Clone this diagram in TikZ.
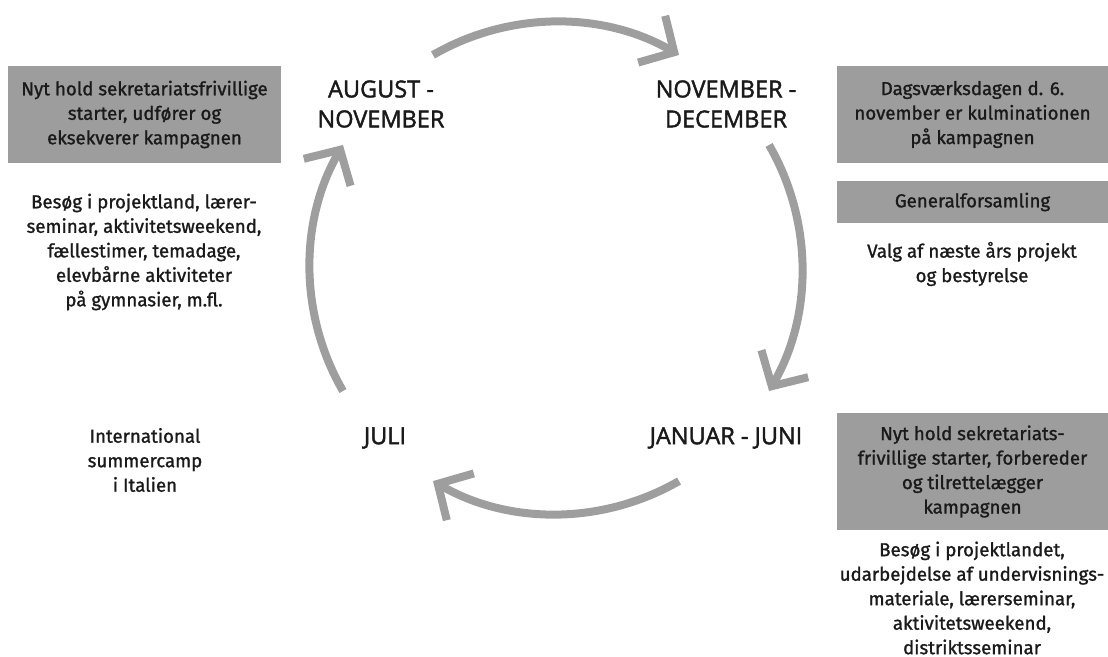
\documentclass[tikz,border=0pt]{standalone}
\usepackage{fontspec}
\setmainfont{Fira Sans}
\newfontfamily\monthfont[FakeBold=1.8]{Open Sans}
\IfFontExistsTF{FiraSans-Medium.otf}{\newfontfamily\medfont{FiraSans-Medium.otf}}{\newfontfamily\medfont[FakeBold=1.2]{Fira Sans}}
\usetikzlibrary{arrows.meta,calc}
\definecolor{boxgray}{HTML}{9D9D9D}
\definecolor{arrgray}{HTML}{9E9E9E}
\definecolor{ink}{HTML}{1A1A1A}
\begin{document}
\begin{tikzpicture}[x=1pt,y=-1pt,
  graybox/.style={fill=boxgray, inner sep=0pt, align=center, text=ink,
    font=\medfont\fontsize{18.7}{24.5}\selectfont},
  note/.style={inner sep=0pt, align=center, text=ink,
    font=\medfont\fontsize{18.7}{24.5}\selectfont},
  month/.style={inner sep=0pt, align=center, text=ink,
    font=\monthfont\fontsize{23.5}{30}\selectfont},
  cyc/.style={draw=arrgray, line width=8pt, -{Straight Barb[length=26pt,width=54pt]}}]
\path[use as bounding box] (0,0) rectangle (1108,656);
\coordinate (c) at (556,268);

% cycle arrows
\draw[cyc] ($(c)+(-120:246)$) arc[start angle=-120, end angle=-60, radius=246];
\draw[cyc] ($(c)+(-30:246)$) arc[start angle=-30, end angle=30, radius=246];
\draw[cyc] ($(c)+(60:246)$) arc[start angle=60, end angle=120, radius=246];
\draw[cyc] ($(c)+(150:246)$) arc[start angle=150, end angle=210, radius=246];

% month labels
\node[month] (aug) at (381,104) {AUGUST -\\NOVEMBER};
\node[month] (nov) at (726,104) {NOVEMBER -\\DECEMBER};
\node[month] (jul) at (385,438) {JULI};
\node[month] (jan) at (726,438) {JANUAR - JUNI};

% left side
\node[graybox, minimum width=273pt, minimum height=97pt] (b1) at (144.5,114.5)
  {Nyt hold sekretariatsfrivillige\\starter, udfører og\\eksekverer kampagnen};
\node[note] (t1) at (144,252)
  {Besøg i projektland, lærer-\\seminar, aktivitetsweekend,\\fællestimer, temadage,\\elevbårne aktiviteter\\på gymnasier, m.fl.};
\node[note] (t2) at (145,460) {International\\summercamp\\i Italien};

% right side
\node[graybox, minimum width=271pt, minimum height=97pt] (b2) at (972.5,114.5)
  {Dagsværksdagen d. 6.\\november er kulminationen\\på kampagnen};
\node[graybox, minimum width=271pt, minimum height=42pt] (b3) at (972.5,202)
  {Generalforsamling};
\node[note] (t3) at (972,264) {Valg af næste års projekt\\og bestyrelse};
\node[graybox, minimum width=271pt, minimum height=117pt] (b4) at (972.5,471.5)
  {Nyt hold sekretariats-\\frivillige starter, forbereder\\og tilrettelægger\\kampagnen};
\node[note] (t4) at (972,598)
  {Besøg i projektlandet,\\udarbejdelse af undervisnings-\\materiale, lærerseminar,\\aktivitetsweekend,\\distriktsseminar};
\end{tikzpicture}
\end{document}
